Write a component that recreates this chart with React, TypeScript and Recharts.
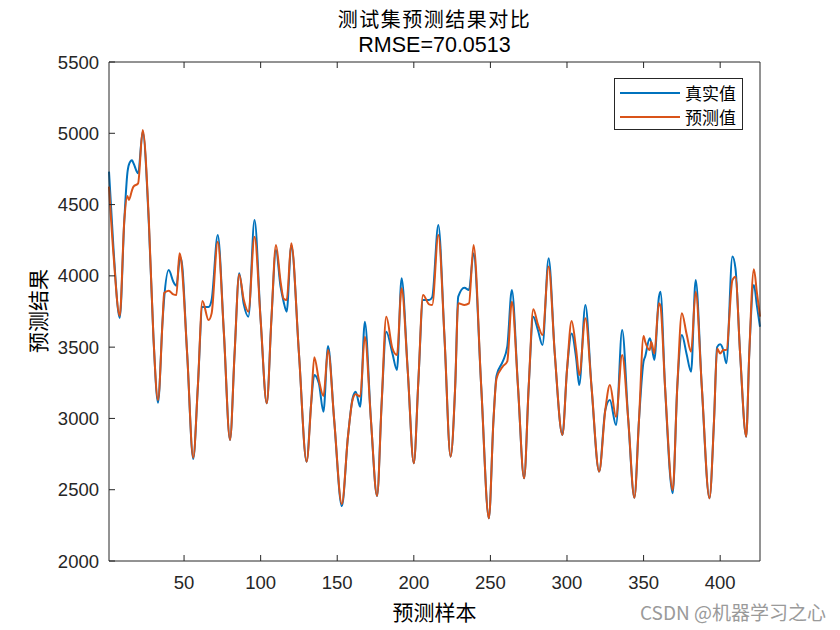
import { LineChart, Line, XAxis, YAxis, Legend } from 'recharts';

// sample index (x) with the actual / predicted values
const sampleNo = [
  1, 4, 8, 11, 13, 14, 16, 17, 20, 23, 27, 30, 33, 36, 37, 40, 43, 45, 47, 48,
  52, 56, 59, 62, 66, 68, 72, 76, 80, 83, 86, 89, 92, 96, 100, 104, 107, 110, 113, 115,
  117, 120, 125, 130, 133, 135, 138, 141, 144, 148, 153, 157, 160, 162, 165, 168, 172, 176, 179, 182,
  186, 189, 192, 196, 200, 203, 206, 210, 212, 216, 220, 224, 227, 229, 233, 236, 239, 244, 249, 252,
  254, 258, 261, 264, 268, 272, 275, 278, 281, 284, 288, 292, 297, 300, 303, 306, 308, 312, 316, 321,
  325, 328, 332, 336, 340, 344, 347, 350, 351, 354, 355, 357, 360, 361, 364, 369, 372, 375, 378, 381,
  384, 388, 393, 396, 398, 400, 402, 404, 408, 410, 413, 417, 419, 422, 424, 426,
];

const actualValues = [
  4731, 4180, 3705, 4390, 4720, 4780, 4810, 4790, 4719, 5010, 4370, 3573, 3110, 3690, 3840, 4041, 3959, 3931, 4100, 4123,
  3457, 2715, 3223, 3782, 3782, 3831, 4287, 3600, 2849, 3457, 4018, 3800, 3714, 4392, 3690, 3106, 3690, 4181, 3924, 3819,
  3749, 4215, 3457, 2697, 3108, 3305, 3246, 3047, 3508, 2990, 2385, 2872, 3140, 3188, 3082, 3678, 2989, 2456, 3108, 3608,
  3457, 3340, 3983, 3340, 2686, 3270, 3831, 3831, 3850, 4357, 3573, 2732, 3223, 3854, 3917, 3901, 4158, 3223, 2299, 2989,
  3300, 3398, 3503, 3901, 3223, 2580, 3223, 3714, 3620, 3515, 4123, 3457, 2884, 3340, 3596, 3420, 3234, 3796, 3223, 2627,
  3059, 3129, 2954, 3620, 2989, 2444, 2989, 3400, 3433, 3562, 3530, 3410, 3850, 3889, 3223, 2475, 3223, 3585, 3456, 3328,
  3971, 3223, 2440, 2989, 3500, 3520, 3480, 3387, 4135, 4050, 3457, 2872, 3457, 3936, 3790, 3643,
];

const predictedValues = [
  4626, 4140, 3720, 4390, 4560, 4532, 4600, 4626, 4649, 5023, 4392, 3573, 3130, 3690, 3880, 3896, 3870, 3866, 4158, 4120,
  3457, 2725, 3223, 3824, 3690, 3737, 4240, 3600, 2849, 3457, 4010, 3830, 3749, 4275, 3690, 3106, 3690, 4216, 3960, 3840,
  3831, 4228, 3457, 2697, 3108, 3429, 3270, 3157, 3480, 2990, 2400, 2872, 3129, 3170, 3153, 3573, 2989, 2456, 3108, 3714,
  3492, 3445, 3913, 3340, 2686, 3270, 3866, 3800, 3796, 4287, 3573, 2732, 3223, 3807, 3796, 3807, 4216, 3223, 2299, 2989,
  3280, 3363, 3400, 3819, 3223, 2580, 3223, 3765, 3660, 3585, 4065, 3457, 2884, 3340, 3683, 3480, 3304, 3702, 3223, 2627,
  3059, 3234, 3012, 3445, 2989, 2444, 2989, 3578, 3540, 3480, 3538, 3456, 3807, 3790, 3223, 2498, 3223, 3737, 3596, 3468,
  3889, 3223, 2440, 2989, 3490, 3456, 3480, 3480, 3971, 3994, 3457, 2872, 3457, 4046, 3880, 3714,
];

const xTicks = [50, 100, 150, 200, 250, 300, 350, 400];
const yTicks = [2000, 2500, 3000, 3500, 4000, 4500, 5000, 5500];

const AXIS = '#262626';
const BLUE = '#0072BD';
const ORANGE = '#D95319';
const CJK = '"Noto Sans CJK SC", sans-serif';
const LATIN = '"Liberation Sans", Arial, sans-serif';

const rows = sampleNo.map((n, i) => ({
  n,
  actual: actualValues[i],
  predicted: predictedValues[i],
}));

// MATLAB style: ticks point inwards on all four sides
function BottomTick({ x, y, payload }: any) {
  return (
    <g>
      <line x1={x} x2={x} y1={y} y2={y - 6} stroke={AXIS} />
      <text x={x} y={y + 28} textAnchor="middle" fontSize={18.5} fontFamily={LATIN} fill={AXIS}>
        {payload.value}
      </text>
    </g>
  );
}

function TopTick({ x, y }: any) {
  return <line x1={x} x2={x} y1={y} y2={y + 6} stroke={AXIS} />;
}

function LeftTick({ x, y, payload }: any) {
  return (
    <g>
      <line x1={x} x2={x + 6} y1={y} y2={y} stroke={AXIS} />
      <text x={x - 10} y={y + 6.5} textAnchor="end" fontSize={18.5} fontFamily={LATIN} fill={AXIS}>
        {payload.value}
      </text>
    </g>
  );
}

function RightTick({ x, y }: any) {
  return <line x1={x} x2={x - 6} y1={y} y2={y} stroke={AXIS} />;
}

function LegendBox() {
  const items = [
    { name: '真实值', color: BLUE },
    { name: '预测值', color: ORANGE },
  ];
  return (
    <div style={{ position: 'relative', width: 129, height: 52, border: `1px solid ${AXIS}`, background: '#fff', boxSizing: 'border-box' }}>
      {items.map((it, i) => (
        <div key={it.name} style={{ position: 'absolute', left: 0, top: 2 + i * 24, height: 24, display: 'flex', alignItems: 'center' }}>
          <div style={{ marginLeft: 5, width: 60, height: 2, background: it.color }} />
          <span style={{ marginLeft: 5, fontFamily: CJK, fontSize: 17, color: '#000', lineHeight: '24px' }}>{it.name}</span>
        </div>
      ))}
    </div>
  );
}

export default function App() {
  return (
    <div style={{ position: 'absolute', left: 0, top: 0, width: 840, height: 630, background: '#fff' }}>
      <div style={{ position: 'absolute', left: 0, width: 869, top: 6, textAlign: 'center', fontFamily: CJK, fontSize: 20, letterSpacing: '1.5px', color: '#000', lineHeight: '26px' }}>
        测试集预测结果对比
      </div>
      <div style={{ position: 'absolute', left: 0, width: 869, top: 32, textAlign: 'center', fontFamily: LATIN, fontSize: 21.5, color: '#000', lineHeight: '26px' }}>
        RMSE=70.0513
      </div>
      <LineChart
        width={840}
        height={630}
        data={rows}
        margin={{ top: 61, right: 79, bottom: 39, left: 49 }}
      >
        <XAxis
          dataKey="n"
          type="number"
          domain={[1, 426]}
          ticks={xTicks}
          interval={0}
          tickSize={0}
          tickMargin={0}
          tickLine={false}
          axisLine={{ stroke: AXIS }}
          tick={BottomTick}
          height={30}
        />
        <XAxis
          xAxisId="top"
          dataKey="n"
          orientation="top"
          type="number"
          domain={[1, 426]}
          ticks={xTicks}
          interval={0}
          tickSize={0}
          tickMargin={0}
          tickLine={false}
          axisLine={{ stroke: AXIS }}
          tick={TopTick}
          height={1}
        />
        <YAxis
          type="number"
          domain={[2000, 5500]}
          ticks={yTicks}
          interval={0}
          tickSize={0}
          tickMargin={0}
          tickLine={false}
          axisLine={{ stroke: AXIS }}
          tick={LeftTick}
          width={60}
        />
        <YAxis
          yAxisId="right"
          orientation="right"
          type="number"
          domain={[2000, 5500]}
          ticks={yTicks}
          interval={0}
          tickSize={0}
          tickMargin={0}
          tickLine={false}
          axisLine={{ stroke: AXIS }}
          tick={RightTick}
          width={1}
        />
        <Legend
          layout="vertical"
          align="center"
          verticalAlign="middle"
          wrapperStyle={{ left: 614, top: 78, width: 129 }}
          content={() => <LegendBox />}
        />
        <Line
          type="monotone"
          dataKey="actual"
          name="真实值"
          stroke={BLUE}
          strokeWidth={2}
          dot={false}
          isAnimationActive={false}
        />
        <Line
          type="monotone"
          dataKey="predicted"
          name="预测值"
          stroke={ORANGE}
          strokeWidth={2}
          dot={false}
          isAnimationActive={false}
        />
      </LineChart>
      <div style={{ position: 'absolute', left: -8, top: 298, width: 90, height: 26, transform: 'rotate(-90deg)', transformOrigin: '45px 13px', textAlign: 'center', fontFamily: CJK, fontSize: 21, color: '#000', lineHeight: '26px', whiteSpace: 'nowrap' }}>
        预测结果
      </div>
      <div style={{ position: 'absolute', left: 0, width: 869, top: 598, textAlign: 'center', fontFamily: CJK, fontSize: 21, color: '#000', lineHeight: '26px' }}>
        预测样本
      </div>
      <div style={{ position: 'absolute', right: 14, top: 600, fontFamily: CJK, fontSize: 19, color: '#9a9a9a', lineHeight: '24px', whiteSpace: 'nowrap' }}>
        CSDN @机器学习之心
      </div>
    </div>
  );
}
